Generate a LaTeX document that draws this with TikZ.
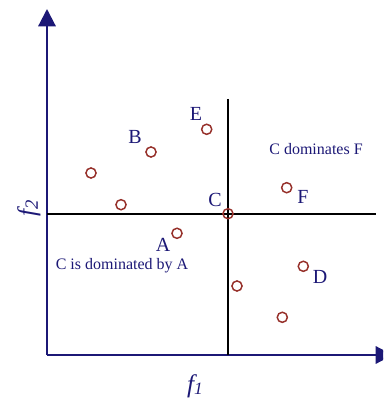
\documentclass[tikz,border=0pt]{standalone}
\usepackage{fontspec}
\setmainfont{Liberation Serif}
\usetikzlibrary{arrows.meta}
\definecolor{navyink}{RGB}{28,24,118}
\definecolor{ptred}{RGB}{150,48,42}

\begin{document}
\begin{tikzpicture}[x=0.75pt,y=-0.75pt,
        axis/.style={draw=navyink,line width=1.6pt,-{Triangle[width=13pt,length=13pt]}},
        split/.style={draw=black,line width=1.3pt},
        pt/.style={circle,draw=ptred,line width=1.1pt,minimum size=7.6pt,inner sep=0pt},
        lbl/.style={text=navyink,font=\fontsize{15}{15}\selectfont},
        note/.style={text=navyink,font=\fontsize{12}{12}\selectfont}]
        \useasboundingbox (0,0) rectangle (383,402);
        \clip (0,0) rectangle (383,402);
        % axes
        \coordinate (o) at (47,355);
        \coordinate (xend) at (393,355);
        \coordinate (yend) at (47,9);
        \draw[axis] (o) -- (xend);
        \draw[axis] (o) -- (yend);
        \node[text=navyink,font=\fontsize{19}{19}\selectfont\itshape] (f1) at (195,386) {f\raisebox{-2pt}{\fontsize{13}{13}\selectfont 1}};
        \node[text=navyink,font=\fontsize{19}{19}\selectfont\itshape,rotate=90] (f2) at (29,208) {f\raisebox{-2pt}{\fontsize{14}{14}\selectfont 2}};
        % lines through C
        \coordinate (hl) at (47,213.7);
        \coordinate (hr) at (376,213.7);
        \coordinate (vt) at (228,99);
        \coordinate (vb) at (228,355);
        \draw[split] (hl) -- (hr);
        \draw[split] (vt) -- (vb);
        % points
        \node[pt] (c) at (228,213.7) {};
        \node[pt] (a) at (177,233.3) {};
        \node[pt] (b) at (151,152) {};
        \node[pt] (d) at (303.3,266.3) {};
        \node[pt] (e) at (206.7,129.3) {};
        \node[pt] (f) at (286.7,187.7) {};
        \node[pt] (p1) at (91,173) {};
        \node[pt] (p2) at (121,204.7) {};
        \node[pt] (p3) at (237,286) {};
        \node[pt] (p4) at (282.3,317.3) {};
        % labels
        \node[lbl] (la) at (163,245) {A};
        \node[lbl] (lb) at (135,137) {B};
        \node[lbl] (lc) at (215,199.5) {C};
        \node[lbl] (ld) at (320,277) {D};
        \node[lbl] (le) at (196,114) {E};
        \node[lbl] (lf) at (303,197) {F};
        \node[note] (dom) at (316,149) {C dominates F};
        \node[note] (domd) at (122,265.5) {C is dominated by A};
    \end{tikzpicture}
\end{document}
